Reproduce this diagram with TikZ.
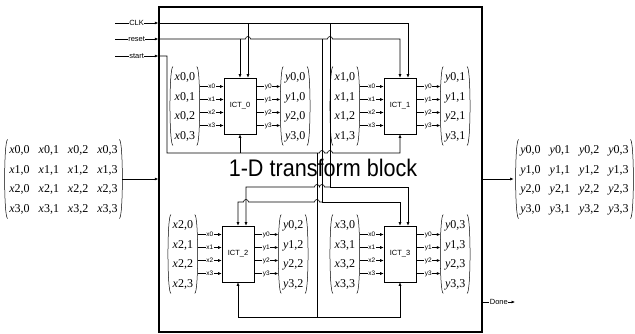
\documentclass[tikz,border=0pt]{standalone}
\usepackage{fontspec}
\setmainfont{Liberation Serif}
\setsansfont{Liberation Sans}
\usepackage{graphicx}
\usetikzlibrary{arrows.meta,calc,positioning}
\renewcommand{\arraystretch}{1.4}
\setlength{\tabcolsep}{4.5pt}
\newcommand{\ent}[2]{\textit{#1}#2}

\begin{document}
\begin{tikzpicture}[x=1pt,y=-1pt,>={Latex[length=3.5pt,width=3pt]},
    wire/.style={line width=0.6pt},
    ictbox/.style={draw,line width=0.6pt,minimum width=32pt,minimum height=56pt,inner sep=0pt,font=\sffamily\fontsize{7.5}{8}\selectfont},
    smat/.style={inner xsep=4.5pt,inner ysep=0pt,font=\fontsize{12}{14}\selectfont},
    paren/.style={line width=0.5pt},
    plbl/.style={fill=white,inner sep=0.4pt,font=\sffamily\fontsize{6.5}{7}\selectfont},
    slbl/.style={fill=white,inner sep=0.5pt,font=\sffamily\fontsize{7.5}{8}\selectfont}]
  \useasboundingbox (0,0) rectangle (635,333);
  \node[draw,line width=1.5pt,minimum width=323pt,minimum height=325pt,inner sep=0pt] (blk) at (320.5,169.5) {};
  \node[inner sep=0pt,font=\sffamily\fontsize{24}{26}\selectfont] (title) at (323,168) {\scalebox{0.9}[1]{1-D transform block}};
  % transform units
  \node[ictbox] (ict0) at (240,106) {ICT\_0};
  \node[ictbox] (ict1) at (400,106) {ICT\_1};
  \node[ictbox] (ict2) at (238,254) {ICT\_2};
  \node[ictbox] (ict3) at (400,254) {ICT\_3};
  \foreach \m in {0,1,2,3}{
    \node[smat,left=24pt of ict\m] (xv\m) {\begin{tabular}{@{}c@{}}\ent{x}{\m,0}\\\ent{x}{\m,1}\\\ent{x}{\m,2}\\\ent{x}{\m,3}\end{tabular}};
    \node[smat,right=24pt of ict\m] (yv\m) {\begin{tabular}{@{}c@{}}\ent{y}{0,\m}\\\ent{y}{1,\m}\\\ent{y}{2,\m}\\\ent{y}{3,\m}\end{tabular}};
    \foreach \k/\dy in {0/-19.5,1/-6.5,2/6.5,3/19.5}{
      \draw[wire,->] ($(ict\m.west)+(-24,\dy)$) -- node[plbl]{x\k} ($(ict\m.west)+(0,\dy)$);
      \draw[wire,->] ($(ict\m.east)+(0,\dy)$) -- node[plbl]{y\k} ($(ict\m.east)+(24,\dy)$);
    }
  }
  % full blocks in and out
  \node[smat] (xin) at (63.5,179) {\begin{tabular}{@{}cccc@{}}
    \ent{x}{0,0} & \ent{x}{0,1} & \ent{x}{0,2} & \ent{x}{0,3}\\
    \ent{x}{1,0} & \ent{x}{1,1} & \ent{x}{1,2} & \ent{x}{1,3}\\
    \ent{x}{2,0} & \ent{x}{2,1} & \ent{x}{2,2} & \ent{x}{2,3}\\
    \ent{x}{3,0} & \ent{x}{3,1} & \ent{x}{3,2} & \ent{x}{3,3}\end{tabular}};
  \node[smat] (yout) at (574.5,179) {\begin{tabular}{@{}cccc@{}}
    \ent{y}{0,0} & \ent{y}{0,1} & \ent{y}{0,2} & \ent{y}{0,3}\\
    \ent{y}{1,0} & \ent{y}{1,1} & \ent{y}{1,2} & \ent{y}{1,3}\\
    \ent{y}{2,0} & \ent{y}{2,1} & \ent{y}{2,2} & \ent{y}{2,3}\\
    \ent{y}{3,0} & \ent{y}{3,1} & \ent{y}{3,2} & \ent{y}{3,3}\end{tabular}};
  \foreach \n in {xin,yout,xv0,xv1,xv2,xv3,yv0,yv1,yv2,yv3}{
    \draw[paren] ([xshift=3pt]\n.north west) .. controls ([xshift=-1pt]\n.north west) and ([xshift=-1pt]\n.south west) .. ([xshift=3pt]\n.south west);
    \draw[paren] ([xshift=-3pt]\n.north east) .. controls ([xshift=1pt]\n.north east) and ([xshift=1pt]\n.south east) .. ([xshift=-3pt]\n.south east);
  }
  \draw[wire,->] (xin.east) -- (blk.west |- xin.east);
  \draw[wire,->] (blk.east |- yout.west) -- ([xshift=-2pt]yout.west);
  % control inputs
  \coordinate (ckin) at (115,23);
  \coordinate (rsin) at (115,39);
  \coordinate (stin) at (115,56);
  \coordinate (ckbus) at (330,187);
  \coordinate (rsbus) at (322,202);
  \coordinate (stbus) at (317,153);
  \coordinate (stturn) at (167,153);
  \coordinate (stlow) at (317,317);
  \coordinate (doneout) at (515,302);
  \draw[wire,->] (ckin) -- node[slbl]{CLK} (blk.west |- ckin);
  \draw[wire,->] (rsin) -- node[slbl]{reset} (blk.west |- rsin);
  \draw[wire,->] (stin) -- node[slbl]{start} (blk.west |- stin);
  % clock
  \draw[wire,->] (blk.west |- ckin) -| ([xshift=8pt]ict1.north);
  \draw[wire,->] ([xshift=8pt]ict0.north |- ckin) -- ([xshift=8pt]ict0.north);
  \draw[wire] (ckbus |- ckin) -- (ckbus);
  \draw[wire,->] (ckbus) -- ([xshift=2.5pt]rsbus |- ckbus) arc[start angle=0,end angle=180,radius=2.5pt]
    -- ([xshift=2.5pt]stbus |- ckbus) arc[start angle=0,end angle=180,radius=2.5pt] -| ([xshift=8pt]ict2.north);
  \draw[wire,->] (ckbus) -| ([xshift=8pt]ict3.north);
  % reset
  \draw[wire,->] (blk.west |- rsin) -- ([xshift=5.5pt]ict0.north |- rsin) arc[start angle=180,end angle=0,radius=2.5pt]
    -- ([xshift=-2.5pt]ckbus |- rsin) arc[start angle=180,end angle=0,radius=2.5pt] -| (ict1.north);
  \draw[wire,->] (ict0.north |- rsin) -- (ict0.north);
  \draw[wire] (rsbus |- rsin) -- (rsbus);
  \draw[wire,->] (rsbus) -- ([xshift=2.5pt]stbus |- rsbus) arc[start angle=0,end angle=180,radius=2.5pt]
    -- ([xshift=10.5pt]ict2.north |- rsbus) arc[start angle=0,end angle=180,radius=2.5pt] -| (ict2.north);
  \draw[wire,->] (rsbus) -| (ict3.north);
  % start
  \draw[wire,->] (blk.west |- stin) -| (stturn) -- ([xshift=-2.5pt]rsbus |- stbus) arc[start angle=180,end angle=0,radius=2.5pt]
    -- ([xshift=-2.5pt]ckbus |- stbus) arc[start angle=180,end angle=0,radius=2.5pt] -| (ict1.south);
  \draw[wire,->] (ict0.south |- stbus) -- (ict0.south);
  \draw[wire] (stbus) -- (stlow);
  \draw[wire,->] (stlow) -| (ict2.south);
  \draw[wire,->] (stlow) -| (ict3.south);
  % done
  \draw[wire,->] (blk.east |- doneout) -- node[slbl]{Done} (doneout);
\end{tikzpicture}
\end{document}
